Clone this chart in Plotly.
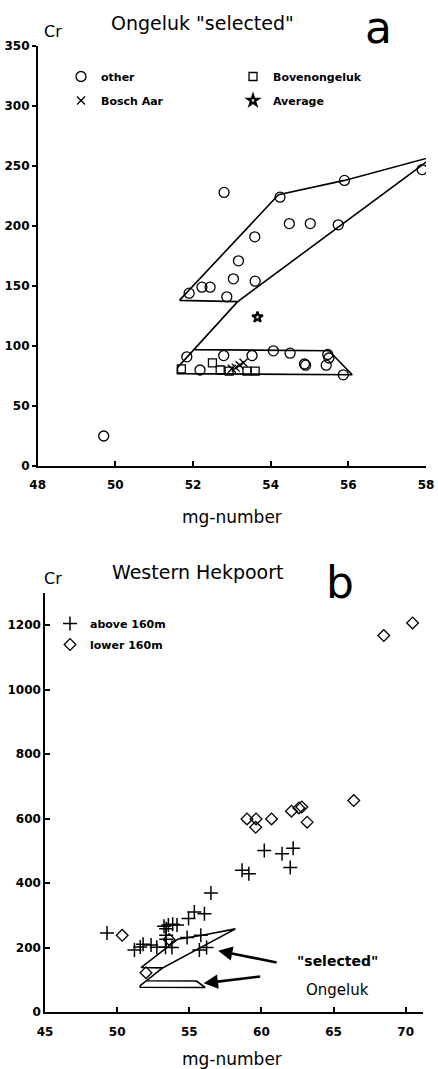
import plotly.graph_objects as go

W, H = 438, 1069
FONT = "DejaVu Sans"

# ---------------- Panel a data: Ongeluk "selected" ----------------
other_x = [49.7, 52.8, 54.24, 55.9, 57.9, 54.48, 55.02, 55.74, 53.59, 53.17,
           53.04, 53.6, 52.23, 52.44, 51.9, 52.87, 51.84, 52.18, 52.79, 53.52,
           54.07, 54.5, 54.87, 54.9, 55.43, 55.47, 55.5, 55.87]
other_y = [25, 228, 224, 238, 247, 202, 202, 201, 191, 171,
           156, 154, 149, 149, 144, 141, 91, 80, 92, 92,
           96, 94, 85, 84, 84, 93, 90, 76]

bosch_x = [53.0, 53.1, 53.2, 53.3]
bosch_y = [81, 82, 84, 86]

boven_x = [51.7, 52.5, 52.7, 52.93, 53.39, 53.6]
boven_y = [81, 86, 80, 79, 79, 79]

avg_x = [53.66]
avg_y = [124]

# outline of the "selected" Ongeluk fields
sel_upper_x = [51.65, 54.2, 55.9, 58.2, 53.15, 51.65]
sel_upper_y = [138, 226, 238, 258, 137, 138]
sel_lower_x = [53.15, 51.6, 51.6, 56.1, 55.5, 52.05]
sel_lower_y = [137, 82, 77, 76, 96, 97]

# ---------------- Panel b data: Western Hekpoort ----------------
above_x = [49.3, 51.2, 51.6, 51.8, 52.35, 52.75, 53.35, 53.8, 55.7, 56.2,
           53.4, 53.4, 54.85, 55.8, 53.25, 53.55, 53.85, 54.15, 53.4, 54.95,
           55.35, 56.05, 56.5, 58.66, 59.13, 60.2, 61.43, 62.2, 62.0]
above_y = [245, 192, 202, 210, 208, 201, 201, 200, 192, 200,
           226, 238, 231, 238, 266, 270, 272, 270, 258, 290,
           310, 305, 369, 440, 429, 501, 491, 508, 448]

lower_x = [50.35, 52.0, 53.6, 59.0, 59.63, 59.6, 60.7, 62.08, 62.6, 62.8,
           63.17, 66.4, 68.48, 70.48]
lower_y = [238, 122, 225, 599, 599, 573, 599, 623, 633, 636,
           589, 656, 1168, 1207]

xa_ticks = [48, 50, 52, 54, 56, 58]
ya_ticks = [0, 50, 100, 150, 200, 250, 300, 350]
xb_ticks = [45, 50, 55, 60, 65, 70]
yb_ticks = [0, 200, 400, 600, 800, 1000, 1200]


def px(x):
    return x / W


def py(y):
    return 1 - y / H


fig = go.Figure()

line_style = dict(color="black", width=1.6)

# panel a outlines
fig.add_trace(go.Scatter(x=sel_upper_x, y=sel_upper_y, mode="lines", line=line_style,
                         showlegend=False, hoverinfo="skip", xaxis="x", yaxis="y"))
fig.add_trace(go.Scatter(x=sel_lower_x, y=sel_lower_y, mode="lines", line=line_style,
                         showlegend=False, hoverinfo="skip", xaxis="x", yaxis="y"))
# panel b outlines
fig.add_trace(go.Scatter(x=sel_upper_x, y=sel_upper_y, mode="lines", line=line_style,
                         showlegend=False, hoverinfo="skip", xaxis="x2", yaxis="y2"))
fig.add_trace(go.Scatter(x=sel_lower_x, y=sel_lower_y, mode="lines", line=line_style,
                         showlegend=False, hoverinfo="skip", xaxis="x2", yaxis="y2"))

mk_line = dict(color="black", width=1.3)

fig.add_trace(go.Scatter(x=other_x, y=other_y, mode="markers", name="other",
                         marker=dict(symbol="circle-open", size=10, color="black", line=mk_line),
                         xaxis="x", yaxis="y", legend="legend", legendgroup="g1"))
fig.add_trace(go.Scatter(x=bosch_x, y=bosch_y, mode="markers", name="Bosch Aar",
                         marker=dict(symbol="x-thin-open", size=8, color="black", line=mk_line),
                         xaxis="x", yaxis="y", legend="legend", legendgroup="g2"))
fig.add_trace(go.Scatter(x=boven_x, y=boven_y, mode="markers", name="Bovenongeluk",
                         marker=dict(symbol="square-open", size=8, color="black", line=mk_line),
                         xaxis="x", yaxis="y", legend="legend2", legendgroup="g3"))
fig.add_trace(go.Scatter(x=avg_x, y=avg_y, mode="markers", name="Average",
                         marker=dict(symbol="star-open", size=8, color="black",
                                     line=dict(color="black", width=2.2)),
                         xaxis="x", yaxis="y", legend="legend2", legendgroup="g4"))

fig.add_trace(go.Scatter(x=above_x, y=above_y, mode="markers", name="above 160m",
                         marker=dict(symbol="cross-thin-open", size=10, color="black",
                                     line=dict(color="black", width=1.5)),
                         xaxis="x2", yaxis="y2", legend="legend3", legendgroup="g5"))
fig.add_trace(go.Scatter(x=lower_x, y=lower_y, mode="markers", name="lower 160m",
                         marker=dict(symbol="diamond-open", size=9, color="black", line=mk_line),
                         xaxis="x2", yaxis="y2", legend="legend3", legendgroup="g6"))

tickfont = dict(family=FONT, size=12, color="black", weight="bold")
axis_common = dict(showline=True, linecolor="black", linewidth=1.5, showgrid=False,
                   zeroline=False, tickcolor="black", tickwidth=1.5, tickfont=tickfont,
                   tickmode="array", automargin=False)

legfont = dict(family=FONT, size=11, color="black", weight="bold")
leg_common = dict(font=legfont, bgcolor="rgba(0,0,0,0)", borderwidth=0,
                  orientation="v", xanchor="left", yanchor="top",
                  itemsizing="trace")

annotations = [
    dict(text='Ongeluk "selected"', x=px(202), y=py(23), font=dict(family=FONT, size=19, color="black")),
    dict(text="a", x=px(378), y=py(28), font=dict(family=FONT, size=44, color="black")),
    dict(text="Cr", x=px(53), y=py(31), font=dict(family=FONT, size=16, color="black")),
    dict(text="mg-number", x=px(232), y=py(517), font=dict(family=FONT, size=17, color="black")),
    dict(text="Western Hekpoort", x=px(198), y=py(572), font=dict(family=FONT, size=19, color="black")),
    dict(text="b", x=px(340), y=py(582), font=dict(family=FONT, size=44, color="black")),
    dict(text="Cr", x=px(53), y=py(578), font=dict(family=FONT, size=16, color="black")),
    dict(text="mg-number", x=px(232), y=py(1059), font=dict(family=FONT, size=17, color="black")),
    dict(text='"selected"', x=px(337), y=py(961), font=dict(family=FONT, size=14, color="black", weight="bold")),
    dict(text="Ongeluk", x=px(337), y=py(990), font=dict(family=FONT, size=15, color="black")),
]
for a in annotations:
    a.update(xref="paper", yref="paper", showarrow=False, xanchor="center", yanchor="middle")

# arrows pointing at the outlined fields (tips in data coords of panel b)
annotations += [
    dict(x=57.0, y=190, xref="x2", yref="y2", ax=60, ay=12, axref="pixel", ayref="pixel",
         showarrow=True, arrowhead=2, arrowsize=1.1, arrowwidth=2.6, arrowcolor="black", text=""),
    dict(x=56.0, y=89, xref="x2", yref="y2", ax=58, ay=-7, axref="pixel", ayref="pixel",
         showarrow=True, arrowhead=2, arrowsize=1.1, arrowwidth=2.6, arrowcolor="black", text=""),
]

fig.update_layout(
    width=W, height=H, margin=dict(l=0, r=0, t=0, b=0),
    paper_bgcolor="white", plot_bgcolor="white",
    font=dict(family=FONT, color="black"),
    showlegend=True,
    xaxis=dict(domain=[37.7 / W, 426 / W], range=[48, 58], anchor="y", tickvals=xa_ticks,
               ticks="inside", ticklen=5, ticklabelstandoff=7, **axis_common),
    yaxis=dict(domain=[py(466), py(46)], range=[0, 350], anchor="x", tickvals=ya_ticks,
               ticks="outside", ticklen=4, **axis_common),
    xaxis2=dict(domain=[45 / W, 423 / W], range=[45, 71.2], anchor="y2", tickvals=xb_ticks,
                ticks="inside", ticklen=5, ticklabelstandoff=8, **axis_common),
    yaxis2=dict(domain=[py(1012), py(593)], range=[0, 1300], anchor="x2", tickvals=yb_ticks,
                ticks="inside", ticklen=5, **axis_common),
    legend=dict(x=px(61), y=py(62), tracegroupgap=5, **leg_common),
    legend2=dict(x=px(233), y=py(62), tracegroupgap=5, **leg_common),
    legend3=dict(x=px(50), y=py(609), tracegroupgap=2, **leg_common),
    annotations=annotations,
)

fig.write_html("out.html")
